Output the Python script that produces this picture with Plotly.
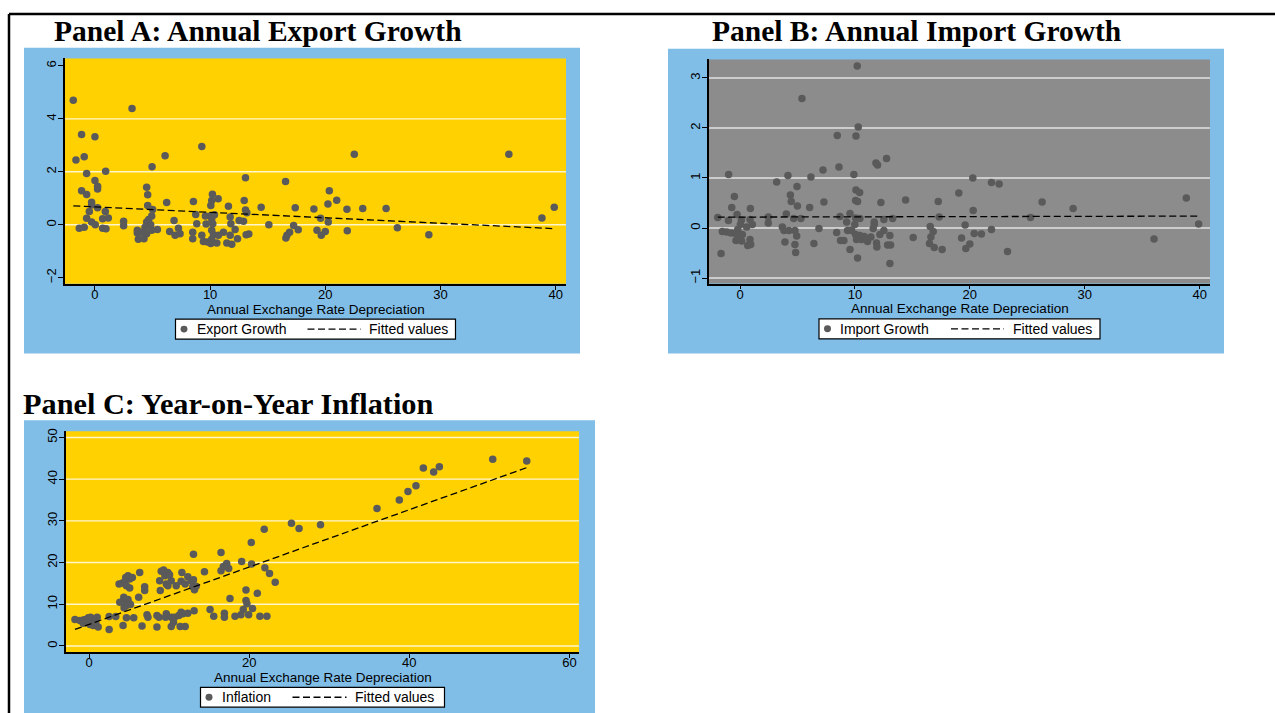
import numpy as np
import plotly.graph_objects as go

W, H = 1275, 713

# ---------------- data ----------------
exp_x = [-1.88, 3.22, -1.16, 0.0, -1.65, -0.93, 0.93, -0.72, 9.28, 6.09, 4.96, 0.0, 0.23, 0.23, -1.16,
         -0.72, 4.49, 4.58, -0.29, -0.29, 0.23, -0.49, 0.90, -0.72, 1.16, 0.67, -0.29, 0.03, -1.36, -0.93,
         0.67, 0.96, 2.49, 2.49, 6.23, 4.58, 5.01, 4.93, 4.67, 4.49, 4.84, 4.35, 3.68, 3.68, 3.77, 4.26,
         4.06, 4.49, 4.93, 5.42, 6.87, 6.49, 6.96, 7.25, 7.39, 8.55, 8.75, 8.84, 8.49, 8.49, 9.28, 9.42,
         9.59, 9.65, 10.06, 10.2, 10.14, 10.06, 10.7, 10.38, 10.14, 10.23, 10.14, 10.29, 10.14, 10.06,
         9.77, 10.58, 10.72, 11.16, 11.45, 11.88, 11.74, 11.59, 11.74, 11.80, 12.17, 12.38, 12.52, 12.9,
         12.96, 13.07, 13.07, 13.19, 13.13, 13.36, 14.43, 15.1, 16.55, 17.39, 17.25, 16.67, 16.58, 16.9,
         17.65, 19.01, 19.59, 19.28, 19.65, 20.0, 20.26, 20.23, 20.35, 20.99, 21.88, 21.91, 22.52, 23.25,
         25.28, 26.26, 28.99, 35.94, 38.81, 39.88]
exp_y = [4.70, 4.39, 3.41, 3.32, 2.45, 2.57, 2.02, 1.94, 2.96, 2.61, 2.19, 1.67, 1.45, 1.35, 1.28,
         1.14, 1.42, 1.13, 0.85, 0.75, 0.64, 0.50, 0.50, 0.25, 0.26, 0.23, 0.10, 0.0, -0.13, -0.09,
         -0.13, -0.15, 0.13, -0.04, 0.84, 0.73, 0.58, 0.33, 0.20, 0.10, 0.0, -0.09, -0.21, -0.31, -0.55, -0.53,
         -0.28, -0.34, -0.21, -0.18, 0.16, -0.25, -0.40, -0.13, -0.34, 0.88, 0.39, 0.04, -0.28, -0.53, -0.40, -0.63,
         0.33, 0.03, 0.34, 1.15, 0.92, 0.73, 0.98, 0.38, 0.23, 0.04, -0.21, -0.38, -0.55, -0.71,
         -0.65, -0.69, -0.40, -0.28, -0.69, -0.74, -0.40, 0.70, 0.29, 0.04, -0.18, -0.53, 0.16, 0.13,
         0.92, 1.78, 0.56, 0.45, -0.38, -0.35, 0.66, 0.0, 1.63, 0.64, -0.03, -0.40, -0.50, -0.28,
         -0.19, 0.60, 0.25, -0.21, -0.40, -0.25, 0.10, 0.78, 1.28, 0.93, 0.59, -0.23, 2.66, 0.61,
         0.61, -0.11, -0.38, 2.66, 0.26, 0.66]

imp_x = [10.2, 5.39, 8.46, 10.09, 10.29, 11.83, 11.97, 12.75, 8.61, 7.22, 9.91, -0.99, 4.17, 6.17, 3.19,
         4.96, 10.09, 10.41, 4.38, -0.49, 10.06, 10.23, 4.46, 7.3, 12.26, 4.99, 6.06, -0.72, 0.9, 4.03,
         -0.26, 9.57, -1.94, 2.46, 8.7, -1.01, 0.12, 0.87, 4.67, 5.3, 10.06, 10.43, 11.68, 12.52, 13.28,
         2.46, 1.07, 0.58, 0.03, -0.2, -1.54, -1.16, -0.78, -0.38, 0.2, -0.03, -0.35, 0.14, 0.87, 0.67,
         0.93, -1.65, 3.68, 3.83, 4.26, 4.78, 3.91, 4.93, 4.78, 4.84, 6.43, 6.87, 8.41, 8.75, 9.04, 9.28,
         9.36, 9.57, 9.71, 9.99, 10.06, 10.14, 10.43, 10.23, 10.58, 10.81, 11.1, 11.39, 11.59, 11.68,
         11.88, 11.91, 12.17, 12.52, 13.04, 12.84, 13.1, 13.04, 14.41, 15.07, 16.55, 16.81, 16.61, 16.49,
         16.9, 17.25, 17.33, 17.59, 19.04, 20.26, 21.88, 22.55, 20.29, 19.59, 19.28, 20.38, 21.01, 21.88,
         20.0, 19.65, 23.28, 25.28, 26.29, 28.99, 36.03, 38.84, 39.91]
imp_y = [3.24, 2.59, 1.85, 1.84, 2.02, 1.30, 1.26, 1.39, 1.22, 1.16, 1.07, 1.07, 1.05, 1.02, 0.92,
         0.83, 0.76, 0.71, 0.66, 0.63, 0.55, 0.53, 0.53, 0.52, 0.51, 0.44, 0.41, 0.41, 0.39, 0.28,
         0.27, 0.29, 0.21, 0.22, 0.23, 0.15, 0.16, 0.17, 0.19, 0.19, 0.20, 0.19, 0.12, 0.17, 0.19,
         0.10, 0.07, 0.02, 0.07, -0.03, -0.07, -0.08, -0.10, -0.11, -0.13, -0.21, -0.25, -0.26, -0.23, -0.35,
         -0.33, -0.51, 0.02, -0.05, -0.05, -0.05, -0.28, -0.16, -0.33, -0.49, -0.31, -0.01, -0.09, -0.25, -0.25, 0.12,
         -0.05, -0.43, -0.05, 0.07, -0.13, -0.23, -0.15, -0.60, -0.23, -0.17, -0.27, -0.18, -0.01, 0.07,
         -0.30, -0.38, -0.13, -0.05, -0.15, -0.34, -0.34, -0.71, 0.56, -0.19, 0.03, -0.07, -0.18, -0.31,
         -0.39, 0.53, 0.22, -0.43, 0.70, 1.00, 0.91, 0.88, 0.35, 0.06, -0.20, -0.11, -0.12, -0.03,
         -0.32, -0.41, -0.47, 0.21, 0.52, 0.39, -0.22, 0.60, 0.08]

inf_x = [-1.78, -1.16, -0.66, -0.33, -0.12, 0.17, 0.41, 0.71, 1.0, 0.08, 0.5, 1.12, -0.75, 0.83, -0.33,
         2.49, 2.49, 3.32, 4.23, 3.73, 4.15, 4.56, 4.85, 5.06, 5.39, 4.44, 4.65, 4.32, 4.56, 4.85, 4.98,
         4.65, 5.15, 4.36, 3.82, 5.06, 6.18, 6.31, 4.65, 5.56, 6.6, 6.93, 6.93, 7.22, 7.34, 8.46, 8.46,
         8.71, 8.8, 9.0, 9.29, 9.46, 9.83, 10.04, 9.63, 10.25, 9.83, 8.88, 9.63, 9.54, 10.25, 10.54,
         10.25, 10.66, 11.2, 11.49, 11.7, 11.37, 11.99, 12.32, 10.87, 11.49, 11.99, 11.58, 12.32, 12.74,
         12.95, 13.15, 13.36, 13.03, 13.03, 13.11, 14.4, 15.1, 15.56, 16.47, 16.47, 16.76, 17.18, 17.43,
         16.89, 16.89, 17.59, 18.22, 19.05, 19.59, 19.59, 19.71, 19.25, 18.96, 19.92, 20.41, 20.29, 20.25,
         21.0, 21.33, 21.87, 21.95, 22.2, 22.53, 23.24, 25.27, 26.22, 28.9, 35.96, 38.75, 39.83, 40.83,
         41.75, 43.04, 43.75, 50.42, 54.67]
inf_y = [6.36, 6.12, 6.28, 5.72, 6.76, 6.92, 5.88, 6.52, 6.92, 5.17, 4.93, 4.53, 5.48, 5.48, 6.28,
         3.97, 7.07, 7.07, 4.93, 14.86, 15.1, 16.45, 16.85, 16.06, 16.45, 15.26, 14.47, 11.69, 10.89, 11.13, 10.25,
         9.7, 9.94, 9.14, 10.49, 13.91, 11.69, 17.65, 6.76, 6.76, 4.77, 14.23, 13.28, 7.47, 6.92, 4.53, 7.31,
         6.92, 15.66, 17.89, 18.2, 16.85, 17.65, 17.09, 14.86, 15.66, 14.47, 13.28, 7.71, 6.92, 6.92, 5.72,
         4.69, 6.92, 7.31, 8.11, 7.71, 4.69, 4.69, 7.87, 14.47, 15.5, 14.86, 17.65, 16.61, 15.66,
         14.23, 13.51, 14.31, 15.9, 22.02, 8.43, 17.81, 8.74, 7.15, 22.42, 18.04, 19.08, 19.79, 18.6,
         7.87, 6.92, 11.37, 7.15, 20.27, 13.43, 10.89, 10.1, 8.74, 7.47, 7.47, 8.98, 19.63, 24.8,
         12.64, 7.15, 27.98, 18.76, 7.15, 17.41, 15.26, 29.41, 28.14, 29.05, 32.99, 34.98, 37.04, 38.39,
         42.69, 41.73, 43.0, 44.75, 44.36]

titles = ["Panel A: Annual Export Growth", "Panel B: Annual Import Growth", "Panel C: Year-on-Year Inflation"]
series_names = ["Export Growth", "Import Growth", "Inflation"]
fit_name = "Fitted values"
xtitle = "Annual Exchange Rate Depreciation"
xticks = [[0, 10, 20, 30, 40], [0, 10, 20, 30, 40], [0, 20, 40, 60]]
yticks = [[-2, 0, 2, 4, 6], [-1, 0, 1, 2, 3], [0, 10, 20, 30, 40, 50]]
ygrid = [[0, 2, 4], [-1, 0, 1, 2, 3], [0, 10, 20, 30, 40, 50]]

# ---------------- style ----------------
BLUE = "#80BEE8"
YELLOW = "#FFD100"
GRAY = "#8C8C8C"
MARK = "#5A5A5A"
SANS = "Liberation Sans, Arial, sans-serif"
SERIF = "Liberation Serif, Times New Roman, serif"
DASH = "7px,3.5px"

plot_boxes = [(65, 566, 55.7, 282), (709, 1210, 56.7, 281.7), (66, 579, 430, 651.7)]
blue_boxes = [(24, 580, 45, 352), (668, 1224, 46, 352), (24, 595, 419, 713)]
ranges_x = [[-2.6, 40.9], [-2.7, 40.9], [-2.9, 61.2]]
ranges_y = [[-2.23, 6.28], [-1.11, 3.37], [-1.43, 51.5]]
bgs = [YELLOW, GRAY, YELLOW]
title_pos = [(52, 28), (710, 28), (21, 403)]
title_size = [29.5, 29.5, 30.3]
# legend geometry: (box width, dash start, dash end, fitted-text start) relative to box left
legend_geo = [(280, 132, 185, 193), (281, 132, 185, 194), (244, 92, 146, 154)]

xs = [exp_x, imp_x, inf_x]
ys = [exp_y, imp_y, inf_y]

def PX(x):
    return x / W

def PY(y):
    return 1 - y / H

fig = go.Figure()
shapes = []
annotations = []
layout = {}

# frame
shapes.append(dict(type="line", xref="paper", yref="paper", x0=PX(9), x1=1, y0=PY(11), y1=PY(11),
                   line=dict(color="black", width=2.5)))
shapes.append(dict(type="line", xref="paper", yref="paper", x0=PX(9), x1=PX(9), y0=0, y1=PY(11),
                   line=dict(color="black", width=2.5)))

for i in range(3):
    n = "" if i == 0 else str(i + 1)
    xa, ya = "x" + n, "y" + n
    bx0, bx1, by0, by1 = blue_boxes[i]
    shapes.append(dict(type="rect", xref="paper", yref="paper", x0=PX(bx0), x1=PX(bx1),
                       y0=PY(by1), y1=PY(by0), fillcolor=BLUE, line=dict(width=0), layer="below"))
    shapes.append(dict(type="rect", xref=xa + " domain", yref=ya + " domain", x0=0, x1=1, y0=0, y1=1,
                       fillcolor=bgs[i], line=dict(width=0), layer="below"))
    gcol = "rgba(255,255,255,0.8)" if i != 1 else "rgba(230,230,230,0.95)"
    for g in ygrid[i]:
        shapes.append(dict(type="line", xref=xa + " domain", yref=ya, x0=0, x1=1, y0=g, y1=g,
                           line=dict(color=gcol, width=1.4), layer="below"))

    X = np.array(xs[i]); Y = np.array(ys[i])
    b, a = np.polyfit(X, Y, 1)
    fx = np.array([X.min(), X.max()])
    fig.add_trace(go.Scatter(x=X, y=Y, mode="markers", name=series_names[i], showlegend=False,
                             marker=dict(color=MARK, size=7.5, line=dict(width=0)),
                             xaxis=xa, yaxis=ya))
    fig.add_trace(go.Scatter(x=fx, y=a + b * fx, mode="lines", name=fit_name, showlegend=False,
                             line=dict(color="black", width=1.3, dash=DASH),
                             xaxis=xa, yaxis=ya))

    px0, px1, py0, py1 = plot_boxes[i]
    layout["xaxis" + n] = dict(domain=[PX(px0), PX(px1)], range=ranges_x[i], anchor=ya,
                               tickvals=xticks[i], ticks="outside", ticklen=4, tickcolor="black",
                               ticklabelstandoff=-6,
                               showline=True, linecolor="black", linewidth=1.5, showgrid=False, zeroline=False,
                               tickfont=dict(family=SANS, size=13, color="black"))
    layout["yaxis" + n] = dict(domain=[PY(py1), PY(py0)], range=ranges_y[i], anchor=xa,
                               tickvals=yticks[i], ticks="outside", ticklen=5, tickcolor="black",
                               tickangle=-90, ticklabelstandoff=-3,
                               showline=True, linecolor="black", linewidth=1.5, showgrid=False, zeroline=False,
                               tickfont=dict(family=SANS, size=13, color="black"))
    # x axis title
    cx = (px0 + px1) / 2
    annotations.append(dict(text=xtitle, xref="paper", yref="paper", x=PX(cx), y=PY(py1 + 25.5),
                            xanchor="center", yanchor="middle", showarrow=False,
                            font=dict(family=SANS, size=13.5, color="black")))
    # legend (box, marker, dashed line, labels)
    bw, d0, d1, ft = legend_geo[i]
    lx = cx - bw / 2
    ly0, ly1 = py1 + 35.5, py1 + 55.5
    lyc = (ly0 + ly1) / 2
    shapes.append(dict(type="rect", xref="paper", yref="paper", x0=PX(lx), x1=PX(lx + bw),
                       y0=PY(ly1), y1=PY(ly0), fillcolor="white", line=dict(color="black", width=1.2)))
    r = 3.5
    shapes.append(dict(type="circle", xref="paper", yref="paper", x0=PX(lx + 8.5 - r), x1=PX(lx + 8.5 + r),
                       y0=PY(lyc + r), y1=PY(lyc - r), fillcolor=MARK, line=dict(width=0)))
    shapes.append(dict(type="line", xref="paper", yref="paper", x0=PX(lx + d0), x1=PX(lx + d1),
                       y0=PY(lyc), y1=PY(lyc), line=dict(color="black", width=1.3, dash=DASH)))
    annotations.append(dict(text=series_names[i], xref="paper", yref="paper", x=PX(lx + 19), y=PY(lyc),
                            xanchor="left", yanchor="middle", showarrow=False,
                            font=dict(family=SANS, size=14, color="black")))
    annotations.append(dict(text=fit_name, xref="paper", yref="paper", x=PX(lx + ft - 2), y=PY(lyc),
                            xanchor="left", yanchor="middle", showarrow=False,
                            font=dict(family=SANS, size=14, color="black")))
    # panel title
    tx, ty = title_pos[i]
    annotations.append(dict(text=titles[i], xref="paper", yref="paper", x=PX(tx), y=PY(ty),
                            xanchor="left", yanchor="middle", showarrow=False,
                            font=dict(family=SERIF, size=title_size[i], color="black", weight="bold")))

fig.update_layout(width=W, height=H, margin=dict(l=0, r=0, t=0, b=0),
                  paper_bgcolor="white", plot_bgcolor="rgba(0,0,0,0)",
                  shapes=shapes, annotations=annotations, showlegend=False, **layout)
fig.write_html("out.html")
